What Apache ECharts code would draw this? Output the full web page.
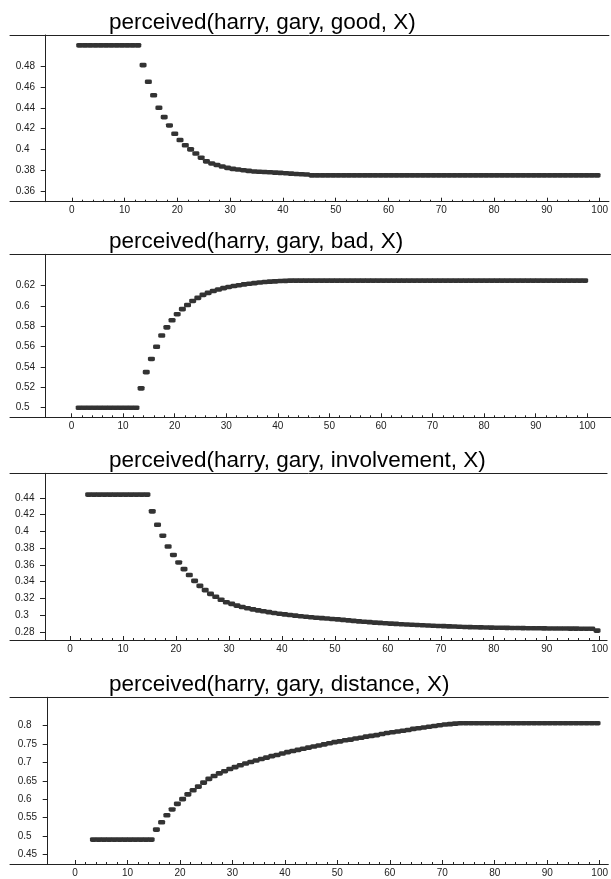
<!DOCTYPE html>
<html>
<head>
<meta charset="utf-8">
<script src="https://cdn.jsdelivr.net/npm/echarts@6/dist/echarts.min.js"></script>
<style>
html,body{margin:0;padding:0;background:#fff;}
#chart{width:611px;height:879px;}
</style>
</head>
<body>
<div id="chart"></div>
<script>
// ---------------- data ----------------
const titles = [
  'perceived(harry, gary, good, X)',
  'perceived(harry, gary, bad, X)',
  'perceived(harry, gary, involvement, X)',
  'perceived(harry, gary, distance, X)'
];

const xTickLabels = [0, 10, 20, 30, 40, 50, 60, 70, 80, 90, 100];
const xMinorTicks = [2,4,6,8,12,14,16,18,22,24,26,28,32,34,36,38,42,44,46,48,52,54,56,58,
                     62,64,66,68,72,74,76,78,82,84,86,88,92,94,96,98];

const yTicksGood = [0.36, 0.38, 0.40, 0.42, 0.44, 0.46, 0.48];
const yTicksBad = [0.50, 0.52, 0.54, 0.56, 0.58, 0.60, 0.62];
const yTicksInvolvement = [0.28, 0.30, 0.32, 0.34, 0.36, 0.38, 0.40, 0.42, 0.44];
const yTicksDistance = [0.45, 0.50, 0.55, 0.60, 0.65, 0.70, 0.75, 0.80];

// first X of each series
const startGood = 2, startBad = 2, startInvolvement = 4, startDistance = 4;

// good: X = 2..100
const good = [
  0.5,0.5,0.5,0.5,0.5,0.5,0.5,0.5,0.5,0.5,0.5,0.5,
  0.481,0.465,0.452,0.440,0.431,0.423,0.415,0.409,0.404,0.400,0.396,0.392,
  0.3885,0.3865,0.385,0.3835,0.3822,0.3813,0.3806,0.3800,0.3793,0.3788,
  0.3785,0.3782,0.3780,0.3777,0.3774,0.3771,0.3767,0.3764,0.3761,0.3758,
  0.375,0.375,0.375,0.375,0.375,0.375,0.375,0.375,0.375,0.375,
  0.375,0.375,0.375,0.375,0.375,0.375,0.375,0.375,0.375,0.375,
  0.375,0.375,0.375,0.375,0.375,0.375,0.375,0.375,0.375,0.375,
  0.375,0.375,0.375,0.375,0.375,0.375,0.375,0.375,0.375,0.375,
  0.375,0.375,0.375,0.375,0.375,0.375,0.375,0.375,0.375,0.375,
  0.375,0.375,0.375,0.375,0.375
];

// bad: X = 2..100
const bad = [
  0.5,0.5,0.5,0.5,0.5,0.5,0.5,0.5,0.5,0.5,0.5,0.5,
  0.519,0.535,0.548,0.560,0.571,0.579,0.586,0.592,0.597,0.601,0.605,0.608,
  0.611,0.613,0.6148,0.6163,0.6176,0.6188,0.6197,0.6205,0.6213,0.622,
  0.6226,0.6231,0.6236,0.624,0.6243,0.6246,0.6248,0.625,0.625,0.625,
  0.625,0.625,0.625,0.625,0.625,0.625,0.625,0.625,0.625,0.625,
  0.625,0.625,0.625,0.625,0.625,0.625,0.625,0.625,0.625,0.625,
  0.625,0.625,0.625,0.625,0.625,0.625,0.625,0.625,0.625,0.625,
  0.625,0.625,0.625,0.625,0.625,0.625,0.625,0.625,0.625,0.625,
  0.625,0.625,0.625,0.625,0.625,0.625,0.625,0.625,0.625,0.625,
  0.625,0.625,0.625,0.625,0.625
];

// involvement: X = 4..100
const involvement = [
  0.444,0.444,0.444,0.444,0.444,0.444,0.444,0.444,0.444,0.444,0.444,0.444,
  0.424,0.408,0.395,0.382,0.372,0.363,0.355,0.348,0.341,0.335,
  0.330,0.3255,0.322,0.3185,0.3155,0.3135,0.3115,0.3098,0.3083,0.307,
  0.3058,0.3047,0.3037,0.3027,0.3018,0.301,0.3002,0.2995,0.2988,0.2982,
  0.2976,0.297,0.2965,0.296,0.2955,0.295,0.2944,0.2938,0.2932,0.2927,
  0.2922,0.2917,0.2912,0.2908,0.2904,0.29,0.2896,0.2893,0.289,0.2887,
  0.2884,0.2881,0.2878,0.2875,0.2872,0.287,0.2867,0.2865,0.2862,0.286,
  0.2858,0.2856,0.2855,0.2854,0.2852,0.2851,0.285,0.2849,0.2848,0.2847,
  0.2846,0.2845,0.2844,0.2844,0.2843,0.2842,0.2842,0.2841,0.2841,0.284,
  0.284,0.2839,0.2839,0.2838,0.2816
];

// distance: X = 4..100
const distance = [
  0.49,0.49,0.49,0.49,0.49,0.49,0.49,0.49,0.49,0.49,0.49,0.49,
  0.517,0.537,0.556,0.572,0.587,0.600,0.613,0.624,0.634,0.645,
  0.655,0.663,0.670,0.676,0.682,0.687,0.692,0.697,0.701,0.705,
  0.709,0.713,0.717,0.720,0.724,0.728,0.731,0.734,0.737,0.740,
  0.743,0.746,0.749,0.752,0.755,0.757,0.760,0.762,0.765,0.767,
  0.770,0.772,0.774,0.777,0.780,0.782,0.784,0.786,0.788,0.791,
  0.793,0.795,0.797,0.799,0.801,0.803,0.804,0.8055,
  0.8066,0.8066,0.8066,0.8066,0.8066,0.8066,0.8066,0.8066,0.8066,0.8066,
  0.8066,0.8066,0.8066,0.8066,0.8066,0.8066,0.8066,0.8066,0.8066,0.8066,
  0.8066,0.8066,0.8066,0.8066,0.8066,0.8066,0.8066
];

// ---------------- layout / style ----------------
const panels = [
  {title: titles[0], values: good, start: startGood, yTicks: yTicksGood,
   top: 35, height: 166.7, titleTop: 12, xMin: -11.70, xMax: 101.75, yMin: 0.3497, yMax: 0.5100, yOffset: 35.7},
  {title: titles[1], values: bad, start: startBad, yTicks: yTicksBad,
   top: 254.3, height: 163, titleTop: 231, xMin: -11.92, xMax: 104.6, yMin: 0.4906, yMax: 0.6509, yOffset: 35.7},
  {title: titles[2], values: involvement, start: startInvolvement, yTicks: yTicksInvolvement,
   top: 473.3, height: 166.7, titleTop: 450, xMin: -11.35, xMax: 101.4, yMin: 0.2704, yMax: 0.4695, yOffset: 35},
  {title: titles[3], values: distance, start: startDistance, yTicks: yTicksDistance,
   top: 697.3, height: 166.7, titleTop: 674, xMin: -12.4, xMax: 101.65, yMin: 0.4236, yMax: 0.877, yOffset: 37.7}
];

const FONT = '"Liberation Sans", Arial, sans-serif';
const LINE = '#222';
const MARK = '#333';

const option = {
  animation: false,
  backgroundColor: '#fff',
  title: [], grid: [], xAxis: [], yAxis: [], series: []
};

panels.forEach((p, i) => {
  option.title.push({
    text: p.title, left: 109, top: p.titleTop, padding: 0,
    textStyle: {fontFamily: FONT, fontSize: 22.5, fontWeight: 'normal', color: '#000', lineHeight: 22}
  });
  option.grid.push({left: 10, width: 601, top: p.top, height: p.height, containLabel: false});
  // bottom axis: line, major ticks, labels
  option.xAxis.push({
    type: 'value', gridIndex: i, position: 'bottom', min: p.xMin, max: p.xMax,
    axisLine: {show: true, onZero: false, lineStyle: {color: LINE, width: 1}},
    axisTick: {show: true, inside: true, length: 4, customValues: xTickLabels, lineStyle: {color: LINE}},
    axisLabel: {show: true, customValues: xTickLabels, margin: 4, fontFamily: FONT, fontSize: 10, color: '#222'},
    splitLine: {show: false}
  });
  // bottom axis: minor ticks
  option.xAxis.push({
    type: 'value', gridIndex: i, position: 'bottom', min: p.xMin, max: p.xMax,
    axisLine: {show: false, onZero: false},
    axisTick: {show: true, inside: true, length: 2, customValues: xMinorTicks, lineStyle: {color: LINE}},
    axisLabel: {show: false},
    splitLine: {show: false}
  });
  // top frame line
  option.xAxis.push({
    type: 'value', gridIndex: i, position: 'top', min: p.xMin, max: p.xMax,
    axisLine: {show: true, onZero: false, lineStyle: {color: LINE, width: 1}},
    axisTick: {show: false}, axisLabel: {show: false}, splitLine: {show: false}
  });
  option.yAxis.push({
    type: 'value', gridIndex: i, position: 'left', offset: -p.yOffset,
    min: p.yMin, max: p.yMax,
    axisLine: {show: true, onZero: false, lineStyle: {color: LINE, width: 1}},
    axisTick: {show: true, inside: false, length: 5, customValues: p.yTicks, lineStyle: {color: LINE}},
    axisLabel: {show: true, customValues: p.yTicks, margin: 30, align: 'left',
                fontFamily: FONT, fontSize: 10, color: '#222'},
    splitLine: {show: false}
  });
  option.series.push({
    type: 'scatter', xAxisIndex: i * 3, yAxisIndex: i,
    data: p.values.map((v, k) => [p.start + k, v]),
    symbol: 'roundRect', symbolSize: [7, 4.6], symbolOffset: [-2.6, 0],
    itemStyle: {color: MARK, opacity: 1},
    silent: true
  });
});

const chart = echarts.init(document.getElementById('chart'), null, {renderer: 'canvas'});
chart.setOption(option);
</script>
</body>
</html>
